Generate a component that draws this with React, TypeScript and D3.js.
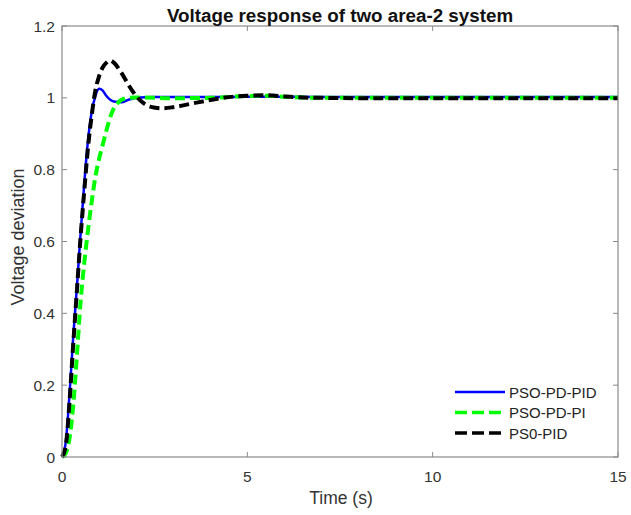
import * as d3 from "d3";
import { useEffect, useRef } from "react";

// time samples (s) and responses
const timeBlue = [0, 0.1, 0.2, 0.3, 0.4, 0.5, 0.6, 0.7, 0.8, 0.9, 1.0, 1.1, 1.2, 1.4, 1.6, 1.8, 2.0, 2.5, 3, 4, 5, 6, 8, 15];
const pidBlue = [0, 0.04, 0.17, 0.33, 0.47, 0.62, 0.76, 0.88, 0.96, 1.005, 1.025, 1.02, 1.005, 0.99, 0.988, 0.995, 1.0, 1.002, 1.002, 1.002, 1.003, 1.003, 1.002, 1.002];

const timeGreen = [0, 0.1, 0.2, 0.3, 0.4, 0.5, 0.6, 0.7, 0.8, 0.9, 1.0, 1.1, 1.2, 1.35, 1.5, 1.7, 2.0, 3, 4, 5, 5.5, 6, 7, 15];
const piGreen = [0, 0.01, 0.05, 0.14, 0.28, 0.43, 0.54, 0.63, 0.71, 0.78, 0.83, 0.87, 0.91, 0.96, 0.985, 0.998, 1.001, 0.999, 1.0, 1.005, 1.006, 1.003, 1.0, 1.0];

const timeBlack = [0, 0.1, 0.2, 0.3, 0.4, 0.5, 0.6, 0.7, 0.8, 0.9, 1.0, 1.1, 1.2, 1.3, 1.4, 1.6, 1.8, 2.0, 2.2, 2.4, 2.7, 3.0, 3.5, 4.0, 4.5, 5.0, 5.5, 6.0, 6.5, 7, 8, 15];
const psoBlack = [0, 0.03, 0.15, 0.31, 0.46, 0.61, 0.74, 0.86, 0.95, 1.02, 1.06, 1.085, 1.098, 1.104, 1.098, 1.07, 1.035, 1.005, 0.985, 0.975, 0.971, 0.974, 0.984, 0.994, 1.002, 1.006, 1.007, 1.004, 1.001, 1.0, 0.999, 0.999];

const xTicks = [0, 5, 10, 15];
const yTicks = [0, 0.2, 0.4, 0.6, 0.8, 1, 1.2];

const seriesNames = ["PSO-PD-PID", "PSO-PD-PI", "PS0-PID"];

const App = () => {
  const ref = useRef<SVGSVGElement>(null);

  useEffect(() => {
    const svg = d3.select(ref.current);
    svg.selectAll("*").remove();

    const width = 631;
    const height = 515;
    const left = 62, right = 618, top = 26, bottom = 457;
    const font = "'Liberation Sans', Arial, sans-serif";
    const axisColor = "#8a8a8a";
    const textColor = "#333";

    svg.attr("width", width).attr("height", height);

    const x = d3.scaleLinear().domain([0, 15]).range([left, right]);
    const y = d3.scaleLinear().domain([0, 1.2]).range([bottom, top]);

    svg.append("rect").attr("width", width).attr("height", height).attr("fill", "white");

    // ticks on all four sides, pointing in
    const tickLen = 5;
    const axes = svg.append("g").attr("stroke", axisColor).attr("stroke-width", 1);
    xTicks.forEach((t) => {
      axes.append("line").attr("x1", x(t)).attr("x2", x(t)).attr("y1", bottom).attr("y2", bottom - tickLen);
      axes.append("line").attr("x1", x(t)).attr("x2", x(t)).attr("y1", top).attr("y2", top + tickLen);
    });
    yTicks.forEach((t) => {
      axes.append("line").attr("x1", left).attr("x2", left + tickLen).attr("y1", y(t)).attr("y2", y(t));
      axes.append("line").attr("x1", right).attr("x2", right - tickLen).attr("y1", y(t)).attr("y2", y(t));
    });

    // curves
    const series = [
      { t: timeBlue, v: pidBlue, color: "#0000ff", width: 2.5, dash: null },
      { t: timeGreen, v: piGreen, color: "#00ff00", width: 4, dash: "10,5" },
      { t: timeBlack, v: psoBlack, color: "#000000", width: 4, dash: "10,5" },
    ];

    const line = d3
      .line<[number, number]>()
      .x((d) => x(d[0]))
      .y((d) => y(d[1]))
      .curve(d3.curveMonotoneX);

    series.forEach((s) => {
      const pts = s.t.map((t, i) => [t, s.v[i]] as [number, number]);
      svg
        .append("path")
        .attr("d", line(pts))
        .attr("fill", "none")
        .attr("stroke", s.color)
        .attr("stroke-width", s.width)
        .attr("stroke-dasharray", s.dash);
    });

    // axes box drawn on top
    svg
      .append("rect")
      .attr("x", left)
      .attr("y", top)
      .attr("width", right - left)
      .attr("height", bottom - top)
      .attr("fill", "none")
      .attr("stroke", axisColor)
      .attr("stroke-width", 1.2);

    // tick labels
    svg
      .append("g")
      .selectAll("text")
      .data(xTicks)
      .join("text")
      .attr("x", (d) => x(d))
      .attr("y", bottom + 25)
      .attr("text-anchor", "middle")
      .attr("font-family", font)
      .attr("font-size", 15.5)
      .attr("fill", textColor)
      .text((d) => String(d));

    svg
      .append("g")
      .selectAll("text")
      .data(yTicks)
      .join("text")
      .attr("x", left - 7)
      .attr("y", (d) => y(d) + 5.5)
      .attr("text-anchor", "end")
      .attr("font-family", font)
      .attr("font-size", 15.5)
      .attr("fill", textColor)
      .text((d) => String(d));

    // title and axis labels
    svg
      .append("text")
      .attr("x", 340)
      .attr("y", 22)
      .attr("text-anchor", "middle")
      .attr("font-family", font)
      .attr("font-weight", "bold")
      .attr("font-size", 18.8)
      .attr("fill", "#111")
      .text("Voltage response of two area-2 system");

    svg
      .append("text")
      .attr("x", 341)
      .attr("y", 504)
      .attr("text-anchor", "middle")
      .attr("font-family", font)
      .attr("font-size", 17.5)
      .attr("fill", textColor)
      .text("Time (s)");

    svg
      .append("text")
      .attr("transform", `translate(24, 237) rotate(-90)`)
      .attr("text-anchor", "middle")
      .attr("font-family", font)
      .attr("font-size", 18)
      .attr("fill", textColor)
      .text("Voltage deviation");

    // legend
    const leg = svg.append("g");
    series.forEach((s, i) => {
      const ly = 392 + i * 20.5;
      leg
        .append("line")
        .attr("x1", 455)
        .attr("x2", 505)
        .attr("y1", ly)
        .attr("y2", ly)
        .attr("stroke", s.color)
        .attr("stroke-width", i === 0 ? 2.5 : 3.5)
        .attr("stroke-dasharray", i === 0 ? null : "12,5");
      leg
        .append("text")
        .attr("x", 509)
        .attr("y", ly + 5.5)
        .attr("font-family", font)
        .attr("font-size", 15)
        .attr("fill", "#222")
        .text(seriesNames[i]);
    });
  }, []);

  return <svg ref={ref} style={{ position: "absolute", left: 0, top: 0, display: "block" }}></svg>;
};

export default App;
